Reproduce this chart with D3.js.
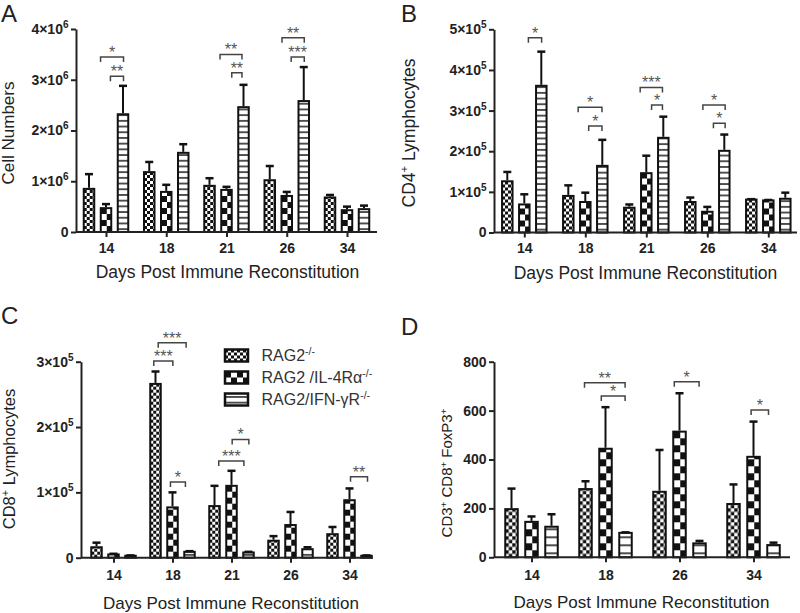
<!DOCTYPE html>
<html><head><meta charset="utf-8">
<script src="https://cdn.jsdelivr.net/npm/d3@7/dist/d3.min.js"></script>
<style>body{margin:0;background:#fff} svg{display:block}</style>
</head><body>
<svg id="chart" width="800" height="613"></svg>
<script>
// ---------- DATA ----------
const groupNames = ["RAG2", "RAG2 /IL-4Rα", "RAG2/IFN-γR"];
const groupSup = "-/-";
const daysABC = ["14", "18", "21", "26", "34"];
const daysD = ["14", "18", "26", "34"];
const xTitle = "Days Post Immune Reconstitution";

// Panel A: Cell Numbers (mean, SEM)
const aRag2 = [0.85e6, 1.18e6, 0.91e6, 1.02e6, 0.68e6];
const aRag2Sem = [0.29e6, 0.20e6, 0.15e6, 0.28e6, 0.05e6];
const aIl4 = [0.47e6, 0.79e6, 0.83e6, 0.71e6, 0.43e6];
const aIl4Sem = [0.08e6, 0.14e6, 0.06e6, 0.08e6, 0.07e6];
const aIfn = [2.32e6, 1.56e6, 2.46e6, 2.58e6, 0.45e6];
const aIfnSem = [0.56e6, 0.17e6, 0.44e6, 0.67e6, 0.07e6];
const aTicks = [0, 1e6, 2e6, 3e6, 4e6];
const aTickLabels = ["0", "1×10", "2×10", "3×10", "4×10"];
const aTickExp = "6";
// brackets: [day, from (bar units), to (bar units), height value, label]
const aBrackets = [["14", -0.32, 1.03, 3.45e6, "*"], ["14", 0.26, 1.03, 3.07e6, "**"],
  ["21", -0.38, 0.91, 3.5e6, "**"], ["21", 0.31, 0.91, 3.14e6, "**"],
  ["26", -0.28, 1.03, 3.83e6, "**"], ["26", 0.26, 1.03, 3.45e6, "***"]];

// Panel B: CD4+ Lymphocytes
const bRag2 = [1.26e5, 0.90e5, 0.61e5, 0.75e5, 0.81e5];
const bRag2Sem = [0.23e5, 0.26e5, 0.08e5, 0.11e5, 0.01e5];
const bIl4 = [0.69e5, 0.75e5, 1.46e5, 0.51e5, 0.79e5];
const bIl4Sem = [0.25e5, 0.23e5, 0.43e5, 0.12e5, 0.01e5];
const bIfn = [3.61e5, 1.64e5, 2.33e5, 2.01e5, 0.83e5];
const bIfnSem = [0.84e5, 0.64e5, 0.52e5, 0.40e5, 0.15e5];
const bTicks = [0, 1e5, 2e5, 3e5, 4e5, 5e5];
const bTickLabels = ["0", "1×10", "2×10", "3×10", "4×10", "5×10"];
const bTickExp = "5";
const bBrackets = [["14", 0.24, 1.02, 4.79e5, "*"],
  ["18", -0.42, 0.98, 3.08e5, "*"], ["18", 0.2, 0.98, 2.62e5, "*"],
  ["21", -0.36, 0.95, 3.57e5, "***"], ["21", 0.31, 0.95, 3.14e5, "*"],
  ["26", -0.26, 1.05, 3.14e5, "*"], ["26", 0.36, 1.05, 2.69e5, "*"]];

// Panel C: CD8+ Lymphocytes
const cRag2 = [0.16e5, 2.66e5, 0.79e5, 0.26e5, 0.36e5];
const cRag2Sem = [0.07e5, 0.19e5, 0.31e5, 0.07e5, 0.11e5];
const cIl4 = [0.05e5, 0.77e5, 1.10e5, 0.50e5, 0.88e5];
const cIl4Sem = [0.01e5, 0.23e5, 0.23e5, 0.20e5, 0.18e5];
const cIfn = [0.03e5, 0.09e5, 0.08e5, 0.13e5, 0.03e5];
const cIfnSem = [0.005e5, 0.01e5, 0.01e5, 0.03e5, 0.005e5];
const cTicks = [0, 1e5, 2e5, 3e5];
const cTickLabels = ["0", "1×10", "2×10", "3×10"];
const cTickExp = "5";
const cBrackets = [["18", -1.1, 0.02, 3.01e5, "***"], ["18", -0.84, 0.8, 3.29e5, "***"],
  ["18", -0.12, 0.76, 1.16e5, "*"], ["21", -0.75, 0.73, 1.48e5, "***"],
  ["21", 0.04, 1.02, 1.81e5, "*"], ["34", 0.06, 1.06, 1.24e5, "**"]];

// Panel D: CD3+ CD8+ FoxP3+
const dRag2 = [197, 279, 268, 218];
const dRag2Sem = [84, 32, 171, 80];
const dIl4 = [145, 444, 514, 411];
const dIl4Sem = [22, 170, 157, 144];
const dIfn = [125, 100, 57, 50];
const dIfnSem = [51, 2, 10, 10];
const dTicks = [0, 200, 400, 600, 800];
const dTickLabels = ["0", "200", "400", "600", "800"];
const dTickExp = "";
const dBrackets = [["18", -1.05, 0.98, 714, "**"], ["18", -0.21, 0.98, 660, "*"],
  ["26", -0.26, 0.98, 718, "*"], ["34", -0.12, 0.75, 602, "*"]];

// ---------- RENDER ----------
const FONT = "'Liberation Sans', Arial, Helvetica, sans-serif";
const svg = d3.select("#chart").style("font-family", FONT);
const defs = svg.append("defs");

function makePatterns(key, fine, big, line) {
  const p1 = defs.append("pattern").attr("id", "fine" + key).attr("patternUnits", "userSpaceOnUse")
    .attr("width", fine).attr("height", fine);
  p1.append("rect").attr("width", fine).attr("height", fine).attr("fill", "#fff");
  p1.append("rect").attr("width", fine / 2).attr("height", fine / 2).attr("fill", "#111");
  p1.append("rect").attr("x", fine / 2).attr("y", fine / 2).attr("width", fine / 2).attr("height", fine / 2).attr("fill", "#111");
  const p2 = defs.append("pattern").attr("id", "big" + key).attr("patternUnits", "userSpaceOnUse")
    .attr("width", big * 2).attr("height", big * 2);
  p2.append("rect").attr("width", big * 2).attr("height", big * 2).attr("fill", "#fff");
  p2.append("rect").attr("width", big).attr("height", big).attr("fill", "#111");
  p2.append("rect").attr("x", big).attr("y", big).attr("width", big).attr("height", big).attr("fill", "#111");
  const p3 = defs.append("pattern").attr("id", "line" + key).attr("patternUnits", "userSpaceOnUse")
    .attr("width", 40).attr("height", line);
  p3.append("rect").attr("width", 40).attr("height", line).attr("fill", "#fff");
  p3.append("line").attr("x1", 0).attr("x2", 40).attr("y1", line / 2).attr("y2", line / 2)
    .attr("stroke", "#111").attr("stroke-width", 1.5);
  return ["fine" + key, "big" + key, "line" + key];
}

function richText(sel, parts, supSize, raise) {
  let shifted = false;
  parts.forEach(([b, s]) => {
    const t = sel.append("tspan").text(b);
    if (shifted) t.attr("dy", raise);
    shifted = false;
    if (s) { sel.append("tspan").attr("dy", -raise).attr("font-size", supSize).text(s); shifted = true; }
  });
}

function drawPanel(cfg) {
  const g = svg.append("g");
  const pats = makePatterns(cfg.key, cfg.pat[0], cfg.pat[1], cfg.pat[2]);
  const x = d3.scalePoint().domain(cfg.days).range(cfg.centers);
  const y = d3.scaleLinear().domain([0, cfg.ticks[cfg.ticks.length - 1]]).range([cfg.y0, cfg.y1]);

  // bars
  cfg.series.forEach((s, si) => {
    const [vals, sems] = s;
    cfg.days.forEach((d, di) => {
      const cx = x(d) + (si - 1) * cfg.step;
      const h = cfg.y0 - y(vals[di]);
      const bg = g.append("g").attr("transform", `translate(${cx - cfg.bw / 2},${cfg.y0})`);
      bg.append("rect").attr("x", 0).attr("y", -h).attr("width", cfg.bw).attr("height", h)
        .attr("fill", `url(#${pats[si]})`).attr("stroke", "#111").attr("stroke-width", 2);
      const yt = y(vals[di] + sems[di]);
      g.append("line").attr("x1", cx).attr("x2", cx).attr("y1", y(vals[di]) - 1).attr("y2", yt)
        .attr("stroke", "#111").attr("stroke-width", 2);
      g.append("line").attr("x1", cx - 4).attr("x2", cx + 4).attr("y1", yt).attr("y2", yt)
        .attr("stroke", "#111").attr("stroke-width", 2.5);
    });
  });

  // x axis
  g.append("line").attr("x1", cfg.xAxis[0]).attr("x2", cfg.xAxis[1]).attr("y1", cfg.y0).attr("y2", cfg.y0)
    .attr("stroke", "#222").attr("stroke-width", 2);
  const xa = g.append("g").attr("transform", `translate(0,${cfg.y0})`)
    .call(d3.axisBottom(x).tickSize(5).tickSizeOuter(0));
  xa.select(".domain").remove();
  xa.selectAll(".tick line").attr("stroke", "#222").attr("stroke-width", 2);
  xa.selectAll(".tick text").attr("y", cfg.xLabOff).attr("dy", "0.35em")
    .attr("font-family", FONT).attr("font-size", 14).attr("font-weight", "bold").attr("fill", "#222");

  // y axis
  const ya = g.append("g").attr("transform", `translate(${cfg.xAxis[0]},0)`)
    .call(d3.axisLeft(y).tickValues(cfg.ticks).tickSize(5).tickSizeOuter(0).tickPadding(2.5));
  ya.select(".domain").attr("stroke", "#222").attr("stroke-width", 2);
  ya.selectAll(".tick line").attr("stroke", "#222").attr("stroke-width", 2);
  ya.selectAll(".tick text").each(function (d, i) {
    const t = d3.select(this);
    t.text(null).attr("font-family", FONT).attr("font-size", 14).attr("font-weight", "bold").attr("fill", "#222");
    t.append("tspan").text(cfg.tickLabels[i]);
    if (i > 0 && cfg.tickExp) t.append("tspan").attr("dy", -6).attr("font-size", 10).text(cfg.tickExp);
  });

  // brackets
  cfg.brackets.forEach(([d, f, tt, v, lab]) => {
    const x1 = x(d) + f * cfg.step, x2 = x(d) + tt * cfg.step, yy = y(v);
    g.append("path").attr("d", `M${x1},${yy + 5}V${yy}H${x2}V${yy + 5}`)
      .attr("fill", "none").attr("stroke", "#444").attr("stroke-width", 1.5);
    g.append("text").attr("x", (x1 + x2) / 2).attr("y", yy + 1).attr("text-anchor", "middle")
      .attr("font-size", 16).attr("fill", "#555").text(lab);
  });

  // titles
  g.append("text").attr("x", cfg.xTitlePos[0]).attr("y", cfg.xTitlePos[1]).attr("dy", "0.35em")
    .attr("text-anchor", "middle").attr("font-size", cfg.xTitleSize).attr("fill", "#222").text(xTitle);
  const yt = g.append("text").attr("transform", `translate(${cfg.yTitlePos[0]},${cfg.yTitlePos[1]}) rotate(-90)`)
    .attr("dy", "0.35em").attr("text-anchor", "middle").attr("font-size", cfg.yTitleSize).attr("fill", "#222");
  richText(yt, cfg.yTitle, cfg.yTitleSize * 0.65, cfg.yTitleSize * 0.38);
  g.append("text").attr("x", cfg.letterPos[0]).attr("y", cfg.letterPos[1]).attr("font-size", 24)
    .attr("fill", "#222").text(cfg.letter);
  return pats;
}

drawPanel({ key: "A", letter: "A", letterPos: [1, 22], days: daysABC,
  series: [[aRag2, aRag2Sem], [aIl4, aIl4Sem], [aIfn, aIfnSem]],
  ticks: aTicks, tickLabels: aTickLabels, tickExp: aTickExp, brackets: aBrackets,
  xAxis: [76, 377], centers: [106, 347], y0: 232, y1: 29, step: 17, bw: 10.5, pat: [6, 6, 5.7],
  xLabOff: 16.5, xTitlePos: [227.5, 272], xTitleSize: 17.5,
  yTitle: [["Cell Numbers", ""]], yTitlePos: [8.5, 133], yTitleSize: 17 });

drawPanel({ key: "B", letter: "B", letterPos: [401, 22], days: daysABC,
  series: [[bRag2, bRag2Sem], [bIl4, bIl4Sem], [bIfn, bIfnSem]],
  ticks: bTicks, tickLabels: bTickLabels, tickExp: bTickExp, brackets: bBrackets,
  xAxis: [494, 797], centers: [524.3, 768.3], y0: 232.5, y1: 29.3, step: 17, bw: 10.5, pat: [6, 6, 5.7],
  xLabOff: 16, xTitlePos: [645.5, 272.5], xTitleSize: 17.5,
  yTitle: [["CD4", "+"], [" Lymphocytes", ""]], yTitlePos: [409, 133], yTitleSize: 17.5 });

const cPats = drawPanel({ key: "C", letter: "C", letterPos: [1, 324], days: daysABC,
  series: [[cRag2, cRag2Sem], [cIl4, cIl4Sem], [cIfn, cIfnSem]],
  ticks: cTicks, tickLabels: cTickLabels, tickExp: cTickExp, brackets: cBrackets,
  xAxis: [81, 373], centers: [113.5, 349.5], y0: 557.7, y1: 361.7, step: 17, bw: 10.5, pat: [6, 6, 5.7],
  xLabOff: 17.3, xTitlePos: [231, 603], xTitleSize: 17,
  yTitle: [["CD8", "+"], [" Lymphocytes", ""]], yTitlePos: [9.5, 459], yTitleSize: 16.5 });

drawPanel({ key: "D", letter: "D", letterPos: [401, 335], days: daysD,
  series: [[dRag2, dRag2Sem], [dIl4, dIl4Sem], [dIfn, dIfnSem]],
  ticks: dTicks, tickLabels: dTickLabels, tickExp: dTickExp, brackets: dBrackets,
  xAxis: [494, 790], centers: [531.5, 753.5], y0: 557.3, y1: 361.7, step: 20, bw: 12.5, pat: [7, 7, 8],
  xLabOff: 17.7, xTitlePos: [641.5, 602], xTitleSize: 17,
  yTitle: [["CD3", "+"], [" CD8", "+"], [" FoxP3", "+"]], yTitlePos: [447, 473], yTitleSize: 15 });

// legend (panel C)
const legRows = [355.5, 377.5, 399.5];
const lg = svg.append("g");
groupNames.forEach((nm, i) => {
  const pg = lg.append("g").attr("transform", `translate(225,${legRows[i] + 6})`);
  pg.append("rect").attr("x", 0).attr("y", -12).attr("width", 23).attr("height", 12)
    .attr("fill", `url(#${cPats[i]})`).attr("stroke", "#111").attr("stroke-width", 2.5);
  const t = lg.append("text").attr("x", 261.5).attr("y", legRows[i]).attr("dy", "0.36em")
    .attr("font-size", 16).attr("fill", "#333");
  richText(t, [[nm, groupSup]], 10.5, 6);
});
</script>
</body></html>
